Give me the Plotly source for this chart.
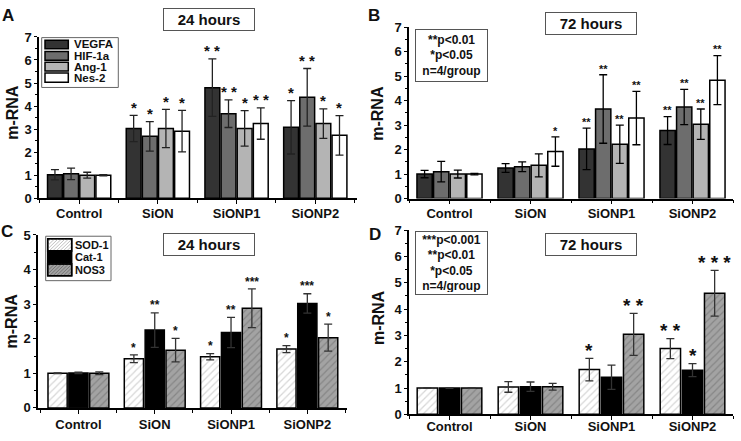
import plotly.graph_objects as go

W, H = 741, 441
FONT = "Arial, Liberation Sans, sans-serif"

categories = ["Control", "SiON", "SiONP1", "SiONP2"]

# ---- Panel A: 24 hours (angiogenic genes)
a_names = ["VEGFA", "HIF-1a", "Ang-1", "Nes-2"]
a_vegfa = [1.02, 3.03, 4.80, 3.08]
a_vegfa_err = [0.22, 0.57, 1.25, 1.16]
a_hif = [1.06, 2.69, 3.67, 4.38]
a_hif_err = [0.25, 0.64, 0.60, 1.25]
a_ang = [1.00, 3.03, 3.03, 3.24]
a_ang_err = [0.13, 0.83, 0.77, 0.64]
a_nes = [1.00, 2.91, 3.24, 2.73]
a_nes_err = [0.03, 0.90, 0.68, 0.86]
a_vegfa_stars = ["", "*", "**", "*"]
a_hif_stars = ["", "*", "**", "**"]
a_ang_stars = ["", "*", "*", "*"]
a_nes_stars = ["", "*", "**", "*"]

# ---- Panel B: 72 hours (angiogenic genes)
b_vegfa = [1.00, 1.25, 2.03, 2.78]
b_vegfa_err = [0.15, 0.18, 0.85, 0.57]
b_hif = [1.10, 1.30, 3.66, 3.74]
b_hif_err = [0.42, 0.20, 1.40, 0.72]
b_ang = [1.00, 1.36, 2.22, 3.04]
b_ang_err = [0.16, 0.47, 0.78, 0.62]
b_nes = [1.00, 1.92, 3.29, 4.84]
b_nes_err = [0.03, 0.60, 1.09, 1.00]
b_vegfa_stars = ["", "", "**", "**"]
b_hif_stars = ["", "", "**", "**"]
b_ang_stars = ["", "", "**", "**"]
b_nes_stars = ["", "*", "**", "**"]

# ---- Panel C: 24 hours (oxidative genes)
c_names = ["SOD-1", "Cat-1", "NOS3"]
c_sod = [1.00, 1.42, 1.48, 1.70]
c_sod_err = [0.01, 0.11, 0.09, 0.10]
c_cat = [1.01, 2.25, 2.18, 3.02]
c_cat_err = [0.02, 0.50, 0.44, 0.28]
c_nos = [1.00, 1.67, 2.88, 2.03]
c_nos_err = [0.04, 0.34, 0.56, 0.39]
c_sod_stars = ["", "*", "*", "*"]
c_cat_stars = ["", "**", "**", "***"]
c_nos_stars = ["", "*", "***", "*"]

# ---- Panel D: 72 hours (oxidative genes)
d_sod = [1.00, 1.04, 1.70, 2.50]
d_sod_err = [0.01, 0.20, 0.43, 0.38]
d_cat = [1.00, 1.05, 1.41, 1.68]
d_cat_err = [0.01, 0.18, 0.46, 0.25]
d_nos = [1.00, 1.05, 3.04, 4.60]
d_nos_err = [0.01, 0.13, 0.80, 0.87]
d_sod_stars = ["", "", "*", "**"]
d_cat_stars = ["", "", "", "*"]
d_nos_stars = ["", "", "**", "***"]

# ---------------------------------------------------------------
def px(x):
    return x / W


def py(y):
    return 1 - y / H


BARGAP = 0.18
BARGROUPGAP = 0.08
xs = list(range(len(categories)))

ang_styles = [
    dict(color="#333333"),
    dict(color="#6d6d6d"),
    dict(color="#b4b4b4"),
    dict(color="#ffffff"),
]
ox_styles = [
    dict(color="#ffffff", pattern=dict(shape="/", fgcolor="#b0b0b0", bgcolor="#ffffff", size=5, solidity=0.25)),
    dict(color="#000000"),
    dict(color="#a3a3a3", pattern=dict(shape="/", fgcolor="#6a6a6a", bgcolor="#a3a3a3", size=5, solidity=0.25)),
]

panels = [
    dict(ax="", xdom=(39, 357), ydom=(31, 198), xr=(-0.51, 3.53), ymax=7, standoff=-2,
         series=[(a_vegfa, a_vegfa_err, a_vegfa_stars), (a_hif, a_hif_err, a_hif_stars),
                 (a_ang, a_ang_err, a_ang_stars), (a_nes, a_nes_err, a_nes_stars)],
         styles=ang_styles, star_font=15, star_shift=5, errcolor="#222222"),
    dict(ax="2", xdom=(409, 733), ydom=(21, 198.3), xr=(-0.5, 3.5), ymax=7, standoff=-2,
         series=[(b_vegfa, b_vegfa_err, b_vegfa_stars), (b_hif, b_hif_err, b_hif_stars),
                 (b_ang, b_ang_err, b_ang_stars), (b_nes, b_nes_err, b_nes_stars)],
         styles=ang_styles, star_font=11, star_shift=4, errcolor="#000000"),
    dict(ax="3", xdom=(38, 347), ydom=(236, 415), xr=(-0.53, 3.52), ymax=5, standoff=0,
         series=[(c_sod, c_sod_err, c_sod_stars), (c_cat, c_cat_err, c_cat_stars),
                 (c_nos, c_nos_err, c_nos_stars)],
         styles=ox_styles, star_font=12, star_shift=5, errcolor="#333333"),
    dict(ax="4", xdom=(409, 733), ydom=(231, 421.7), xr=(-0.5, 3.5), ymax=7, standoff=-5,
         series=[(d_sod, d_sod_err, d_sod_stars), (d_cat, d_cat_err, d_cat_stars),
                 (d_nos, d_nos_err, d_nos_stars)],
         styles=ox_styles, star_font=19, star_shift=4, errcolor="#333333"),
]

fig = go.Figure()
annotations = []
shapes = []
layout_axes = {}

for p in panels:
    n = len(p["series"])
    gw = 1 - BARGAP
    for i, (vals, errs, stars) in enumerate(p["series"]):
        st = p["styles"][i]
        marker = dict(color=st["color"], line=dict(color="#000000", width=1.5))
        if "pattern" in st:
            marker["pattern"] = st["pattern"]
        fig.add_trace(go.Bar(
            x=xs, y=vals, marker=marker,
            error_y=dict(type="data", array=errs, color=p["errcolor"], thickness=1.3, width=4),
            xaxis="x" + p["ax"], yaxis="y" + p["ax"], showlegend=False,
        ))
        for g, s in enumerate(stars):
            if not s:
                continue
            xc = g - gw / 2 + gw / n * (i + 0.5)
            txt = s if p["star_font"] < 13 else " ".join(s)
            annotations.append(dict(
                x=xc, y=vals[g] + errs[g], xref="x" + p["ax"], yref="y" + p["ax"],
                text=txt, showarrow=False, yanchor="middle", xanchor="center",
                yshift=p["star_shift"] + p["star_font"] * 0.2,
                font=dict(family=FONT, size=p["star_font"], color="#111111", weight="bold"),
            ))
    xa = "xaxis" + p["ax"]
    ya = "yaxis" + p["ax"]
    layout_axes[xa] = dict(
        domain=[px(p["xdom"][0]), px(p["xdom"][1])], range=list(p["xr"]),
        anchor="y" + p["ax"], showline=True, linecolor="#000000", linewidth=1.5,
        tickmode="array", tickvals=xs, ticktext=categories,
        ticks="outside", ticklen=4, tickwidth=1.3, tickcolor="#000000",
        ticklabelstandoff=p["standoff"],
        minor=dict(tickvals=[x + 0.5 for x in [-1] + xs], ticks="outside", ticklen=3,
                   tickwidth=1.2, tickcolor="#000000"),
        showgrid=False, zeroline=False, fixedrange=True,
        tickfont=dict(family=FONT, size=13, color="#111111", weight="bold"),
    )
    layout_axes[ya] = dict(
        domain=[py(p["ydom"][1]), py(p["ydom"][0])], range=[0, p["ymax"]],
        anchor="x" + p["ax"], showline=True, linecolor="#000000", linewidth=1.5,
        dtick=1, tick0=0, ticks="outside", ticklen=3, tickwidth=1.3, tickcolor="#000000",
        minor=dict(dtick=0.5, ticks="outside", ticklen=2, tickwidth=1, tickcolor="#000000"),
        showgrid=False, zeroline=False, fixedrange=True,
        tickfont=dict(family=FONT, size=13, color="#111111", weight="bold"),
    )

# y-axis titles
for (cx, cy) in [(12.5, 109), (377.5, 110), (11.5, 325), (378, 322)]:
    annotations.append(dict(x=px(cx), y=py(cy), xref="paper", yref="paper", text="m-RNA",
                            textangle=-90, showarrow=False, xanchor="center", yanchor="middle",
                            font=dict(family=FONT, size=16, color="#111111", weight="bold")))

# panel letters
for (lt, cx, cy) in [("A", 8, 9), ("B", 374, 9), ("C", 7, 232), ("D", 375, 235)]:
    annotations.append(dict(x=px(cx), y=py(cy), xref="paper", yref="paper", text=lt,
                            showarrow=False, xanchor="center", yanchor="middle",
                            font=dict(family=FONT, size=17, color="#111111", weight="bold")))

# time title boxes
for (t, cx, cy) in [("24 hours", 209, 13.3), ("72 hours", 591, 16.7), ("24 hours", 209, 246), ("72 hours", 591, 245.5)]:
    annotations.append(dict(x=px(cx), y=py(cy), xref="paper", yref="paper", text=t,
                            showarrow=False, xanchor="center", yanchor="middle",
                            width=86, height=17, borderpad=2, bordercolor="#555555", borderwidth=1,
                            bgcolor="#ffffff",
                            font=dict(family=FONT, size=15, color="#111111", weight="bold")))

# p-value boxes
pv_b = ["**p<0.01", "*p<0.05", "n=4/group"]
pv_d = ["***p<0.001", "**p<0.01", "*p<0.05", "n=4/group"]
annotations.append(dict(x=px(451.7), y=py(50), xref="paper", yref="paper", text="<br>".join(pv_b),
                        showarrow=False, xanchor="center", yanchor="middle", align="center",
                        width=67, height=47, borderpad=2, bordercolor="#555555", borderwidth=1,
                        bgcolor="#ffffff",
                        font=dict(family=FONT, size=12, color="#111111", weight="bold")))
annotations.append(dict(x=px(451.7), y=py(265), xref="paper", yref="paper", text="<br>".join(pv_d),
                        showarrow=False, xanchor="center", yanchor="middle", align="center",
                        width=67, height=58, borderpad=2, bordercolor="#555555", borderwidth=1,
                        bgcolor="#ffffff",
                        font=dict(family=FONT, size=12, color="#111111", weight="bold")))


# manual legends
def rect(x0, y0, x1, y1, fill, line="#000000", lw=1.5):
    shapes.append(dict(type="rect", xref="paper", yref="paper",
                       x0=px(x0), x1=px(x1), y0=py(y1), y1=py(y0),
                       fillcolor=fill, line=dict(color=line, width=lw), layer="above"))


def hatch(x0, y0, x1, y1, color, step=3.5):
    c = x0 + y0 + step
    while c < x1 + y1:
        xa = max(x0, c - y1)
        xb = min(x1, c - y0)
        if xb > xa:
            shapes.append(dict(type="line", xref="paper", yref="paper",
                               x0=px(xa), y0=py(c - xa), x1=px(xb), y1=py(c - xb),
                               line=dict(color=color, width=0.8), layer="above"))
        c += step


# legend A
rect(41.7, 31.7, 118.3, 83.3, "#ffffff", line="#666666", lw=1)
leg_a_y = [(34.3, 43.3), (46.0, 55.0), (57.3, 66.3), (68.3, 78.0)]
for st, name, (y0, y1) in zip(ang_styles, a_names, leg_a_y):
    rect(45, y0, 68.3, y1, st["color"])
    annotations.append(dict(x=px(71.5), y=py((y0 + y1) / 2), xref="paper", yref="paper", text=name,
                            showarrow=False, xanchor="left", yanchor="middle",
                            font=dict(family=FONT, size=11.5, color="#111111", weight="bold")))

# legend C
rect(45.7, 237.3, 111, 283.3, "#ffffff", line="#666666", lw=1)
leg_c_y = [(240.0, 252.3), (253.3, 265.0), (266.0, 278.3)]
for st, name, (y0, y1) in zip(ox_styles, c_names, leg_c_y):
    rect(47.7, y0, 71.7, y1, st["color"])
    if "pattern" in st:
        hatch(47.7, y0, 71.7, y1, st["pattern"]["fgcolor"])
        rect(47.7, y0, 71.7, y1, "rgba(0,0,0,0)")
    annotations.append(dict(x=px(73), y=py((y0 + y1) / 2), xref="paper", yref="paper", text=name,
                            showarrow=False, xanchor="left", yanchor="middle",
                            font=dict(family=FONT, size=11, color="#111111", weight="bold")))

fig.update_layout(
    width=W, height=H, margin=dict(l=0, r=0, t=0, b=0),
    paper_bgcolor="#ffffff", plot_bgcolor="rgba(0,0,0,0)",
    barmode="group", bargap=BARGAP, bargroupgap=BARGROUPGAP,
    annotations=annotations, shapes=shapes, showlegend=False,
    font=dict(family=FONT, color="#111111"),
    **layout_axes,
)

fig.write_html(
    "out.html",
    config={"displayModeBar": False},
    post_script="document.body.style.margin='0';document.body.style.overflow='hidden';",
)
